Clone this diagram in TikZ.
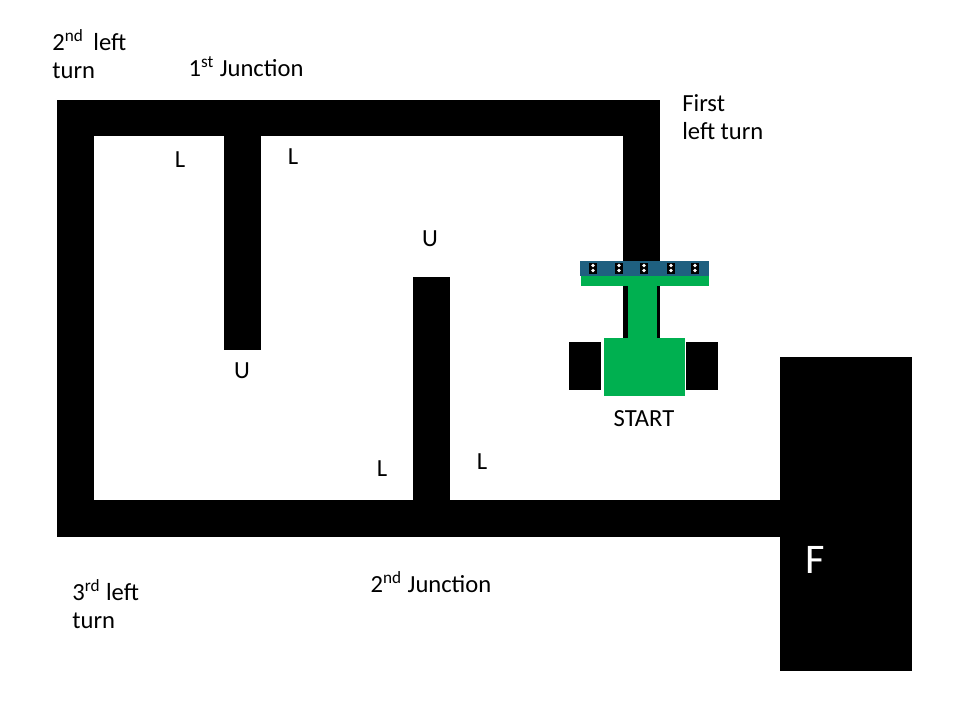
\documentclass[tikz,border=0pt]{standalone}
\usepackage{fontspec}
\setmainfont{Carlito}
\definecolor{botgreen}{HTML}{00B050}
\definecolor{barblue}{HTML}{1F6080}
\tikzset{
  lbl/.style={font=\fontsize{14}{16}\selectfont, inner sep=0pt},
  lblleft/.style={lbl, anchor=west, align=left},
  wall/.style={fill=black},
  sensor/.style={fill=black, minimum width=0.16cm, minimum height=0.22cm, inner sep=0pt}
}
\begin{document}
\begin{tikzpicture}[x=0.02cm, y=-0.02cm]
\useasboundingbox (0,0) rectangle (956,720);
% maze walls
\fill[wall] (57,100) rectangle (660,136);
\fill[wall] (57,100) rectangle (94,537);
\fill[wall] (57,500) rectangle (780,537);
\fill[wall] (623,100) rectangle (660,340);
\fill[wall] (224,136) rectangle (261,350);
\fill[wall] (413,277) rectangle (450,500);
\fill[wall] (780,357) rectangle (912,671);
\node[text=white, font=\fontsize{24}{28}\selectfont] (fin) at (815,560) {F};
% robot
\fill[botgreen] (581,276) rectangle (709,286);
\fill[botgreen] (628,286) rectangle (657,340);
\fill[botgreen] (604,338) rectangle (685,396);
\fill[black] (569,342) rectangle (601,390);
\fill[black] (686,342) rectangle (718,390);
\fill[barblue] (580,261) rectangle (709,276);
\foreach \sx in {593,619,644,671,695} {
  \node[sensor] (s\sx) at (\sx,268) {};
  \fill[white] (\sx,265.5) circle (1.8);
  \fill[white] (\sx,270.5) circle (1.8);
}
% labels
\node[lblleft] (t2) at (52,54) {2\textsuperscript{nd}\, left\\turn};
\node[lbl] (j1) at (246,67) {1\textsuperscript{st} Junction};
\node[lblleft] (t1) at (682,117) {First\\left turn};
\node[lbl] (l1) at (180,160) {L};
\node[lbl] (l2) at (293,157) {L};
\node[lbl] (u1) at (430,239) {U};
\node[lbl] (u2) at (242,371) {U};
\node[lbl] (start) at (644,419) {START};
\node[lbl] (l3) at (382,469) {L};
\node[lbl] (l4) at (482,462) {L};
\node[lblleft] (t3) at (72,604) {3\textsuperscript{rd} left\\turn};
\node[lbl] (j2) at (431,582) {2\textsuperscript{nd} Junction};
\end{tikzpicture}
\end{document}
